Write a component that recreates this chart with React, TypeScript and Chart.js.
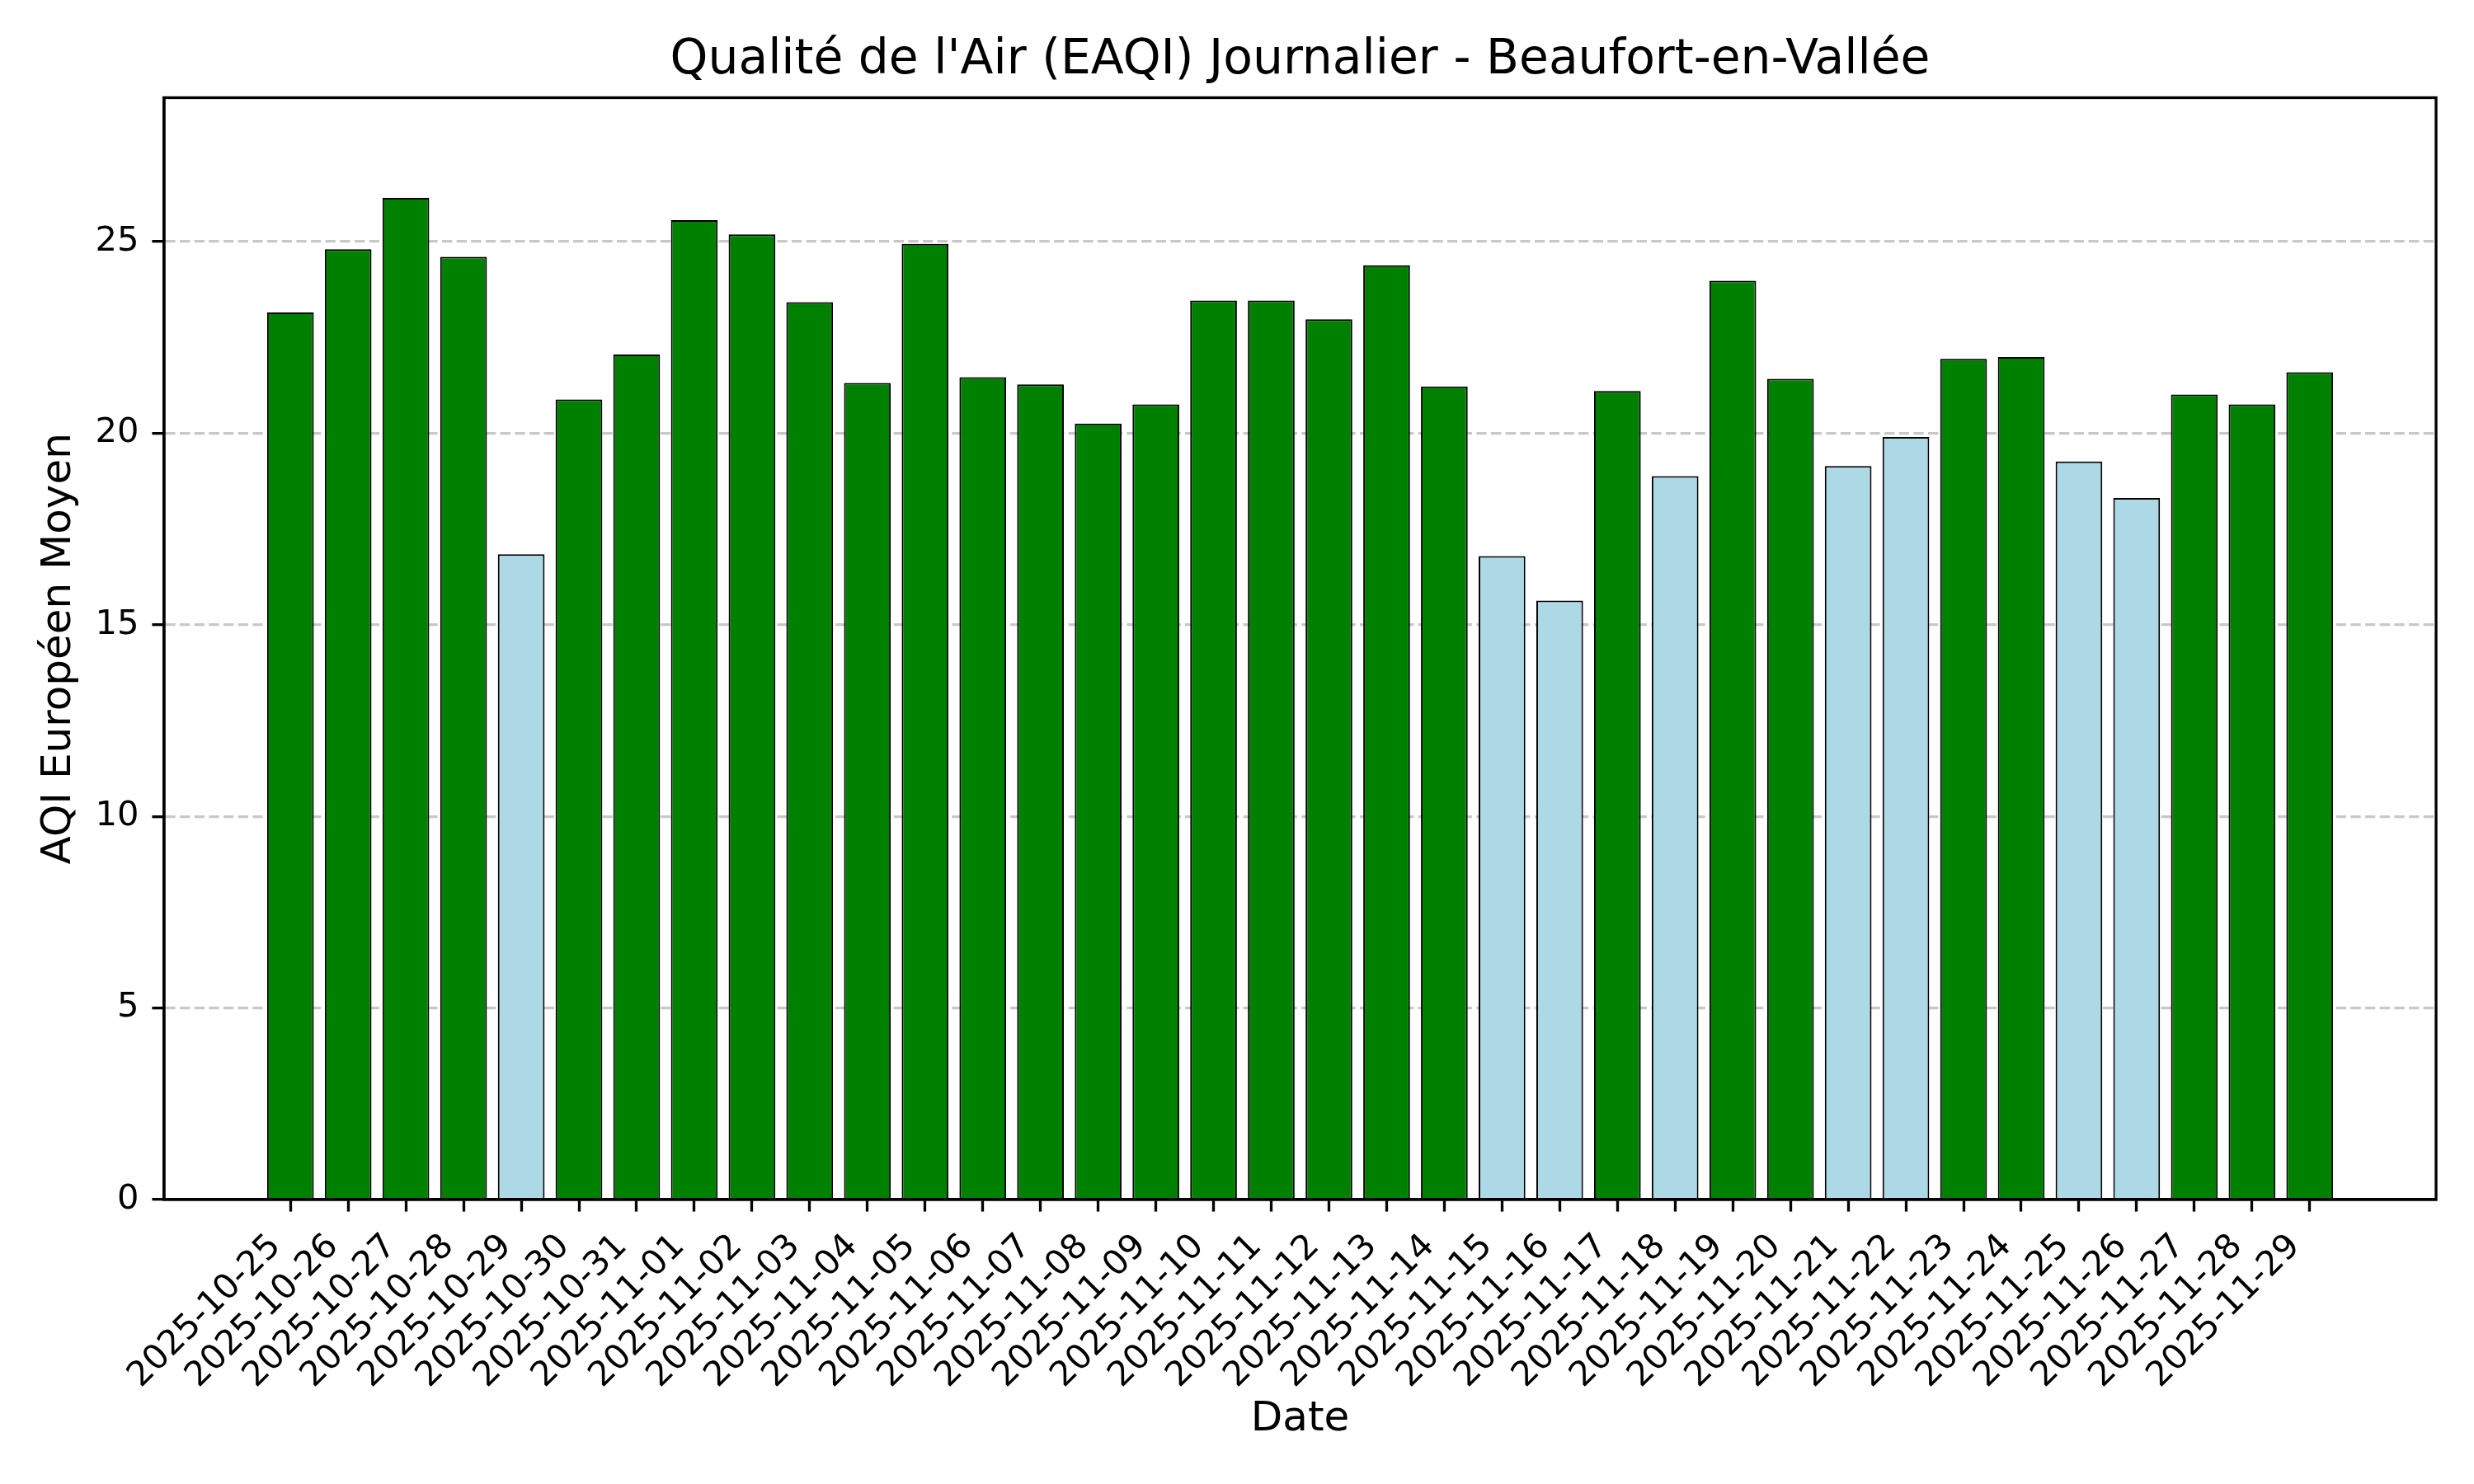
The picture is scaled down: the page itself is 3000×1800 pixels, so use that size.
import React, { useEffect, useRef } from "react";
import { Chart, registerables } from "chart.js";

Chart.register(...registerables);

const dates: string[] = [
  "2025-10-25", "2025-10-26", "2025-10-27", "2025-10-28", "2025-10-29", "2025-10-30",
  "2025-10-31", "2025-11-01", "2025-11-02", "2025-11-03", "2025-11-04", "2025-11-05",
  "2025-11-06", "2025-11-07", "2025-11-08", "2025-11-09", "2025-11-10", "2025-11-11",
  "2025-11-12", "2025-11-13", "2025-11-14", "2025-11-15", "2025-11-16", "2025-11-17",
  "2025-11-18", "2025-11-19", "2025-11-20", "2025-11-21", "2025-11-22", "2025-11-23",
  "2025-11-24", "2025-11-25", "2025-11-26", "2025-11-27", "2025-11-28", "2025-11-29",
];

const aqiValues: number[] = [
  23.15, 24.8, 26.14, 24.6, 16.84, 20.88,
  22.05, 25.56, 25.19, 23.42, 21.31, 24.94,
  21.46, 21.27, 20.25, 20.75, 23.46, 23.46,
  22.97, 24.38, 21.22, 16.79, 15.63, 21.1,
  18.88, 23.98, 21.42, 19.14, 19.9, 21.94,
  21.99, 19.26, 18.31, 21.01, 20.75, 21.59,
];

const yTicks: number[] = [0, 5, 10, 15, 20, 25];

const THRESHOLD = 20;
const GOOD_COLOR = "#ADD8E6";
const FAIR_COLOR = "#008000";

const TITLE = "Qualité de l'Air (EAQI) Journalier - Beaufort-en-Vallée";
const X_LABEL = "Date";
const Y_LABEL = "AQI Européen Moyen";

const FONT = "'DejaVu Sans', sans-serif";
const PT = 300 / 72;

const spinePlugin = {
  id: "spines",
  afterDraw(chart: any) {
    const { ctx, chartArea } = chart;
    ctx.save();
    ctx.strokeStyle = "#000";
    ctx.lineWidth = 0.8 * PT;
    ctx.strokeRect(chartArea.left, chartArea.top, chartArea.right - chartArea.left, chartArea.bottom - chartArea.top);
    ctx.restore();
  },
};

export default function App() {
  const ref = useRef<HTMLCanvasElement>(null);

  useEffect(() => {
    if (!ref.current) return;
    const n = aqiValues.length;
    const barW = 0.8;
    const span = (n - 1) + barW;
    const xMin = -barW / 2 - 0.05 * span;
    const xMax = n - 1 + barW / 2 + 0.05 * span;
    const yMax = Math.max(...aqiValues) * 1.1;

    const chart = new Chart(ref.current, {
      type: "bar",
      data: {
        datasets: [
          {
            data: aqiValues.map((v, i) => ({ x: i, y: v })),
            backgroundColor: aqiValues.map((v) => (v < THRESHOLD ? GOOD_COLOR : FAIR_COLOR)),
            borderColor: "#000",
            borderWidth: 2,
            barPercentage: 0.81,
            categoryPercentage: 1,
          },
        ],
      },
      plugins: [spinePlugin],
      options: {
        animation: false,
        responsive: false,
        devicePixelRatio: 1,
        layout: { padding: { left: 0, right: 46, top: 0, bottom: 0 } },
        plugins: {
          legend: { display: false },
          tooltip: { enabled: false },
          title: {
            display: true,
            text: TITLE,
            fullSize: false,
            color: "#000",
            font: { family: FONT, size: 14 * PT, weight: "normal", lineHeight: 1.2 },
            padding: { top: 39, bottom: 9.5 },
          },
        },
        scales: {
          x: {
            type: "linear",
            min: xMin,
            max: xMax,
            offset: false,
            afterBuildTicks: (scale: any) => {
              scale.ticks = dates.map((_, i) => ({ value: i }));
            },
            afterFit: (scale: any) => {
              scale.height = 1800 - 1455;
            },
            grid: {
              display: true,
              offset: false,
              drawOnChartArea: false,
              drawTicks: true,
              tickLength: 3.5 * PT,
              tickColor: "#000",
              tickWidth: 0.8 * PT,
            },
            border: { display: true, color: "#000", width: 0.8 * PT },
            ticks: {
              autoSkip: false,
              minRotation: 45,
              maxRotation: 45,
              padding: 18,
              labelOffset: -18,
              color: "#000",
              font: { family: FONT, size: 10 * PT },
              callback: (value: any) => dates[value as number] ?? "",
            },
            title: {
              display: true,
              text: X_LABEL,
              color: "#000",
              font: { family: FONT, size: 12 * PT, lineHeight: 1.2 },
              padding: { top: 0, bottom: 48 },
            },
          },
          y: {
            type: "linear",
            min: 0,
            max: yMax,
            z: 1,
            afterBuildTicks: (scale: any) => {
              scale.ticks = yTicks.map((v) => ({ value: v }));
            },
            afterFit: (scale: any) => {
              scale.width = 199;
            },
            grid: {
              display: true,
              offset: false,
              drawOnChartArea: true,
              drawTicks: true,
              color: "rgba(176,176,176,0.7)",
              lineWidth: 0.8 * PT,
              tickLength: 3.5 * PT,
              tickColor: "#000",
              tickWidth: 0.8 * PT,
              tickBorderDash: [],
            },
            border: { display: true, color: "#000", width: 0.8 * PT, dash: [3.7 * 0.8 * PT, 1.6 * 0.8 * PT] },
            ticks: {
              padding: 16,
              color: "#000",
              font: { family: FONT, size: 10 * PT },
              callback: (value: any) => String(value),
            },
            title: {
              display: true,
              text: Y_LABEL,
              color: "#000",
              font: { family: FONT, size: 12 * PT, lineHeight: 1.2 },
              padding: { top: 42.5, bottom: 0 },
            },
          },
        },
      },
    } as any);

    return () => chart.destroy();
  }, []);

  return (
    <div style={{ position: "absolute", left: 0, top: 0, width: 3000, height: 1800, background: "#fff" }}>
      <canvas ref={ref} width={3000} height={1800} style={{ display: "block", width: 3000, height: 1800 }} />
    </div>
  );
}
